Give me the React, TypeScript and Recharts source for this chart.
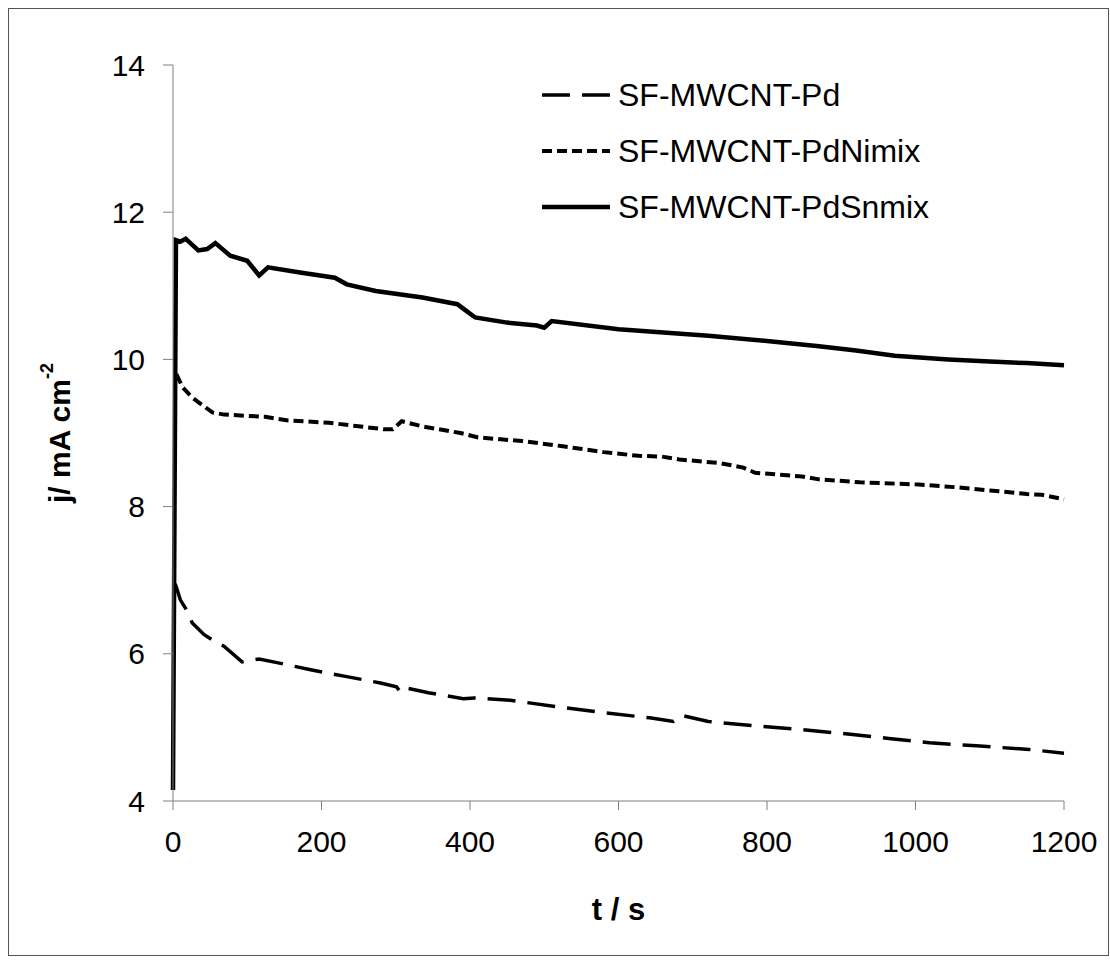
import { Label, Legend, Line, LineChart, XAxis, YAxis } from 'recharts';

// chronoamperometry traces, j (mA cm-2) vs t (s)
const pdTime = [3, 10, 18, 26, 42, 53, 69, 93, 116, 140, 187, 234, 281, 301, 305, 308, 344, 391, 406, 454, 517, 580, 642, 674, 686, 721, 784, 847, 909, 964, 1019, 1082, 1153, 1200];
const pdJ = [6.95, 6.73, 6.6, 6.42, 6.26, 6.19, 6.1, 5.89, 5.93, 5.88, 5.78, 5.69, 5.6, 5.55, 5.5, 5.55, 5.47, 5.39, 5.4, 5.37, 5.28, 5.2, 5.13, 5.08, 5.16, 5.08, 5.02, 4.97, 4.91, 4.85, 4.79, 4.75, 4.7, 4.65];

const niTime = [4, 6, 13, 26, 53, 69, 124, 155, 210, 242, 285, 296, 308, 336, 387, 411, 470, 525, 580, 627, 658, 682, 737, 768, 784, 847, 870, 925, 1004, 1059, 1100, 1150, 1170, 1200];
const niJ = [9.75, 9.77, 9.62, 9.48, 9.28, 9.25, 9.22, 9.17, 9.14, 9.1, 9.05, 9.05, 9.16, 9.09, 9.0, 8.94, 8.89, 8.82, 8.74, 8.69, 8.68, 8.64, 8.59, 8.53, 8.46, 8.41, 8.37, 8.33, 8.3, 8.26, 8.22, 8.17, 8.16, 8.1];

const snTime = [0, 4, 10, 17, 34, 46, 57, 77, 100, 116, 128, 171, 218, 234, 273, 336, 383, 395, 407, 450, 490, 500, 510, 600, 721, 800, 870, 920, 972, 1044, 1100, 1150, 1200];
const snJ = [4.15, 11.62, 11.6, 11.64, 11.48, 11.5, 11.58, 11.41, 11.34, 11.14, 11.25, 11.18, 11.11, 11.02, 10.93, 10.84, 10.75, 10.66, 10.57, 10.5, 10.46, 10.43, 10.52, 10.41, 10.32, 10.25, 10.18, 10.12, 10.05, 10.0, 9.97, 9.95, 9.92];

const xTicks = [0, 200, 400, 600, 800, 1000, 1200];
const yTicks = [4, 6, 8, 10, 12, 14];

const seriesNames = ['SF-MWCNT-Pd', 'SF-MWCNT-PdNimix', 'SF-MWCNT-PdSnmix'];

const toRows = (ts: number[], js: number[]) => ts.map((t, i) => ({ t, j: js[i] }));

const FONT = '"Liberation Sans", Arial, sans-serif';

const styles = [
  { dash: '28 12', width: 3.5 },
  { dash: '10 5', width: 4 },
  { dash: undefined as string | undefined, width: 4.5 },
];

const renderLegend = () => (
  <div style={{ fontFamily: FONT, fontSize: 32 }}>
    {seriesNames.map((name, i) => (
      <div key={name} style={{ display: 'flex', alignItems: 'center', height: 56 }}>
        <svg width={68} height={10} style={{ marginRight: 8 }}>
          <line
            x1={0}
            y1={5}
            x2={68}
            y2={5}
            stroke="#000"
            strokeWidth={styles[i].width}
            strokeDasharray={styles[i].dash}
          />
        </svg>
        <span>{name}</span>
      </div>
    ))}
  </div>
);

const YTitle = () => (
  <text
    x={59}
    y={433}
    transform="rotate(-90, 59, 433)"
    textAnchor="middle"
    dominantBaseline="central"
    fontFamily={FONT}
    fontSize={30}
    fontWeight="bold"
    fill="#000"
  >
    j/ mA cm
    <tspan fontSize={18} dy={-12}>-2</tspan>
  </text>
);

export default function App() {
  const tickStyle = { fontFamily: FONT, fontSize: 30, fill: '#000' };
  return (
    <div style={{ position: 'absolute', left: 0, top: 0, width: 1110, height: 960, background: '#fff' }}>
      <div
        style={{
          position: 'absolute',
          left: 8,
          top: 8,
          width: 1099,
          height: 946,
          border: '1px solid #555',
        }}
      />
      <LineChart
        width={1110}
        height={960}
        margin={{ top: 65, right: 46, bottom: 29, left: 0 }}
        style={{ position: 'absolute', left: 0, top: 0 }}
      >
        <XAxis
          dataKey="t"
          type="number"
          domain={[0, 1200]}
          ticks={xTicks}
          height={130}
          stroke="#808080"
          tickSize={9}
          tickMargin={21}
          tick={tickStyle}
          allowDuplicatedCategory={false}
        >
          <Label
            value="t / s"
            position="insideBottom"
            offset={11}
            style={{ fontFamily: FONT, fontSize: 31, fontWeight: 'bold', fill: '#000' }}
          />
        </XAxis>
        <YAxis
          dataKey="j"
          type="number"
          domain={[4, 14]}
          ticks={yTicks}
          width={173}
          stroke="#808080"
          tickSize={10}
          tickMargin={18}
          tick={tickStyle}
        >
          <Label content={<YTitle />} />
        </YAxis>
        <Legend
          layout="vertical"
          verticalAlign="middle"
          align="center"
          wrapperStyle={{ left: 542, top: 67, width: 440 }}
          content={renderLegend}
        />
        <Line
          data={toRows(pdTime, pdJ)}
          dataKey="j"
          name={seriesNames[0]}
          stroke="#000"
          strokeWidth={styles[0].width}
          strokeDasharray={styles[0].dash}
          dot={false}
          isAnimationActive={false}
        />
        <Line
          data={toRows(niTime, niJ)}
          dataKey="j"
          name={seriesNames[1]}
          stroke="#000"
          strokeWidth={styles[1].width}
          strokeDasharray={styles[1].dash}
          dot={false}
          isAnimationActive={false}
        />
        <Line
          data={toRows(snTime, snJ)}
          dataKey="j"
          name={seriesNames[2]}
          stroke="#000"
          strokeWidth={styles[2].width}
          dot={false}
          isAnimationActive={false}
        />
      </LineChart>
    </div>
  );
}
